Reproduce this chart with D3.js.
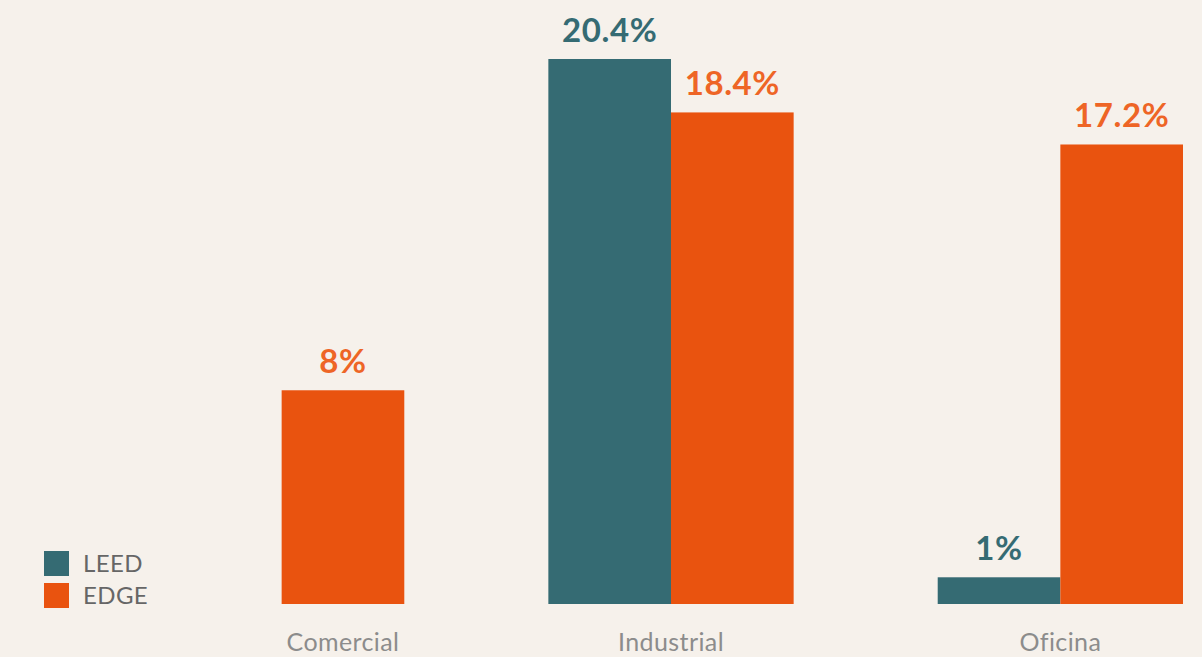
<!DOCTYPE html>
<html>
<head>
<meta charset="utf-8">
<script src="https://cdn.jsdelivr.net/npm/d3@7.9.0/dist/d3.min.js"></script>
<style>
  html, body { margin: 0; padding: 0; background: #f6f1eb; }
  svg { display: block; }
</style>
</head>
<body>
<svg id="chart" width="1202" height="657"></svg>
<script>
const categories = ['Comercial', 'Industrial', 'Oficina'];
const seriesNames = ['LEED', 'EDGE'];
const leedValues = [null, 20.4, 1];
const edgeValues = [8, 18.4, 17.2];
const labels = ['', '20.4%', '1%'];
const edgeLabels = ['8%', '18.4%', '17.2%'];

const colors = { LEED: '#356b73', EDGE: '#e9530f' };
const labelColors = { LEED: '#356b73', EDGE: '#ee6526' };

const width = 1202, height = 657;
const baseline = 604;

const svg = d3.select('#chart');

svg.append('rect')
  .attr('width', width)
  .attr('height', height)
  .attr('fill', '#f6f1eb');

const x0 = d3.scaleBand()
  .domain(categories)
  .range([159, 1183])
  .paddingInner(0.37)
  .paddingOuter(0);

const x1 = d3.scaleBand()
  .domain(seriesNames)
  .range([0, x0.bandwidth()])
  .padding(0);

const y = d3.scaleLinear()
  .domain([0, 20.4])
  .range([baseline, 59]);

const rows = categories.map((c, i) => ({
  category: c,
  values: [
    { key: 'LEED', value: leedValues[i], label: labels[i] },
    { key: 'EDGE', value: edgeValues[i], label: edgeLabels[i] }
  ].filter(d => d.value != null)
}));

const groups = svg.selectAll('g.group')
  .data(rows)
  .enter()
  .append('g')
  .attr('class', 'group')
  .attr('transform', d => `translate(${x0(d.category)},0)`);

groups.selectAll('rect')
  .data(d => d.values)
  .enter()
  .append('rect')
  .attr('x', d => x1(d.key))
  .attr('width', x1.bandwidth())
  .attr('y', d => y(d.value))
  .attr('height', d => y(0) - y(d.value))
  .attr('fill', d => colors[d.key]);

groups.selectAll('text.value')
  .data(d => d.values)
  .enter()
  .append('text')
  .attr('class', 'value')
  .attr('x', d => x1(d.key) + x1.bandwidth() / 2)
  .attr('y', d => y(d.value) - 17)
  .attr('text-anchor', 'middle')
  .attr('font-family', 'Lato, "Open Sans", sans-serif')
  .attr('font-weight', 700)
  .attr('font-size', 33)
  .attr('letter-spacing', 0.6)
  .attr('fill', d => labelColors[d.key])
  .text(d => d.label);

// category labels, centred under the bars that are present
groups.append('text')
  .attr('x', d => {
    const xs = d.values.map(v => x1(v.key) + x1.bandwidth() / 2);
    return d3.mean(xs);
  })
  .attr('y', 651)
  .attr('text-anchor', 'middle')
  .attr('font-family', 'Lato, "Open Sans", sans-serif')
  .attr('font-size', 25)
  .attr('letter-spacing', 0.4)
  .attr('fill', '#8c8c8c')
  .text(d => d.category);

// legend
const legend = svg.append('g')
  .attr('transform', 'translate(44,551)');

const legendItems = legend.selectAll('g')
  .data(seriesNames)
  .enter()
  .append('g')
  .attr('transform', (d, i) => `translate(0,${i * 32})`);

legendItems.append('rect')
  .attr('width', 25)
  .attr('height', 25)
  .attr('fill', d => colors[d]);

legendItems.append('text')
  .attr('x', 39)
  .attr('y', 21)
  .attr('font-family', 'Lato, "Open Sans", sans-serif')
  .attr('font-size', 24)
  .attr('letter-spacing', 0.4)
  .attr('fill', '#666666')
  .text(d => d);
</script>
</body>
</html>
